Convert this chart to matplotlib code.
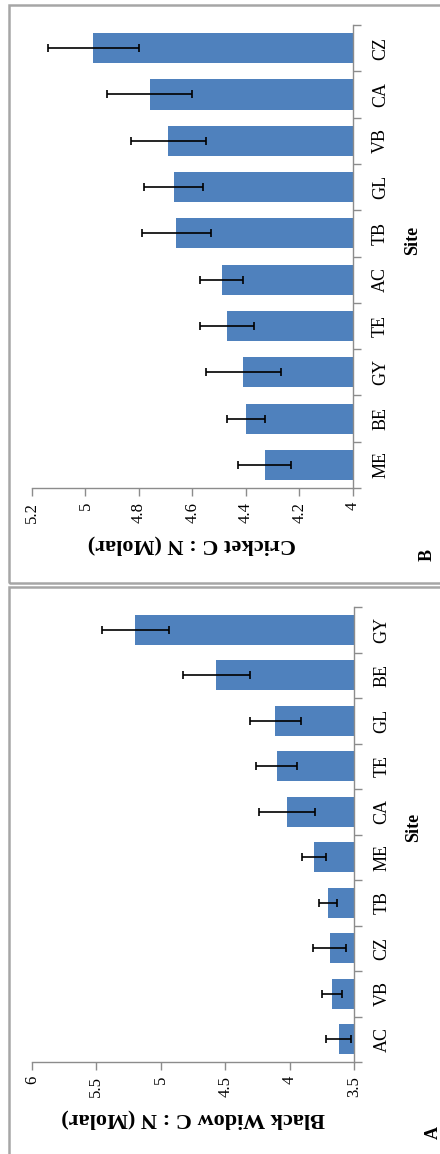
import matplotlib.pyplot as plt
import numpy as np
from matplotlib.patches import Rectangle

plt.rcParams['font.family'] = ['Liberation Serif', 'DejaVu Serif']

# Panel B: cricket C:N by site
sites_b = ['ME', 'BE', 'GY', 'TE', 'AC', 'TB', 'GL', 'VB', 'CA', 'CZ']
cricket = [4.33, 4.40, 4.41, 4.47, 4.49, 4.66, 4.67, 4.69, 4.76, 4.97]
cricket_err = [0.10, 0.07, 0.14, 0.10, 0.08, 0.13, 0.11, 0.14, 0.16, 0.17]
ticks_b = [4, 4.2, 4.4, 4.6, 4.8, 5, 5.2]
tick_labels_b = ['4', '4.2', '4.4', '4.6', '4.8', '5', '5.2']

# Panel A: black widow C:N by site
sites_a = ['AC', 'VB', 'CZ', 'TB', 'ME', 'CA', 'TE', 'GL', 'BE', 'GY']
widow = [3.62, 3.67, 3.69, 3.70, 3.81, 4.02, 4.10, 4.11, 4.57, 5.20]
widow_err = [0.10, 0.08, 0.13, 0.07, 0.09, 0.22, 0.16, 0.20, 0.26, 0.26]
ticks_a = [3.5, 4, 4.5, 5, 5.5, 6]
tick_labels_a = ['3.5', '4', '4.5', '5', '5.5', '6']

blue = '#4f81bd'
gray = '#8c8c8c'

fig = plt.figure(figsize=(4.4, 11.54), dpi=100)


def panel(rect, sites, vals, errs, ticks, tlabels, label, letter, letter_xy, site_y):
    ax = fig.add_axes(rect)
    y = np.arange(len(sites))
    base = ticks[0]
    ax.barh(y, np.array(vals) - base, left=base, height=0.65, color=blue,
            xerr=errs, error_kw=dict(ecolor='black', elinewidth=1.2, capsize=3, capthick=1.2))
    ax.set_xlim(ticks[-1], ticks[0])
    ax.set_ylim(-0.5, len(sites) - 0.5)
    ax.set_xticks(ticks)
    ax.set_xticklabels(tlabels, rotation=90, fontsize=12)
    ax.yaxis.tick_right()
    ax.yaxis.set_label_position('right')
    ax.set_yticks(y)
    ax.set_yticklabels(sites, rotation=90, va='center', fontsize=13)
    ax.set_yticks(np.arange(len(sites) + 1) - 0.5, minor=True)
    ax.tick_params(axis='y', which='major', length=0, pad=14)
    ax.tick_params(axis='y', which='minor', length=6, color=gray, width=1)
    ax.tick_params(axis='x', length=6, color=gray, width=1, pad=4)
    for s in ['top', 'left']:
        ax.spines[s].set_visible(False)
    for s in ['right', 'bottom']:
        ax.spines[s].set_color(gray)
        ax.spines[s].set_linewidth(1)
    ax.set_xlabel(label, rotation=180, fontsize=16, fontweight='bold', labelpad=8)
    ax.set_ylabel('Site', rotation=90, fontsize=13, fontweight='bold')
    ax.yaxis.set_label_coords(1.16, site_y)
    fig.text(letter_xy[0], letter_xy[1], letter, rotation=90, fontsize=13,
             fontweight='bold', ha='center', va='center')
    return ax


panel([0.0727, 0.5771, 0.7289, 0.4012], sites_b, cricket, cricket_err,
      ticks_b, tick_labels_b, 'Cricket C : N (Molar)', 'B', (0.970, 0.519), 0.535)
panel([0.0727, 0.0797, 0.7318, 0.3943], sites_a, widow, widow_err,
      ticks_a, tick_labels_a, 'Black Widow C : N (Molar)', 'A', (0.985, 0.019), 0.515)

# panel frames
fig.add_artist(Rectangle((0.02, 0.4948), 1.0, 0.5009, transform=fig.transFigure,
                         fill=False, edgecolor='#a6a6a6', linewidth=1.8))
fig.add_artist(Rectangle((0.02, -0.05), 1.0, 0.5413, transform=fig.transFigure,
                         fill=False, edgecolor='#a6a6a6', linewidth=1.8))

fig.savefig('out.png', dpi=100)
